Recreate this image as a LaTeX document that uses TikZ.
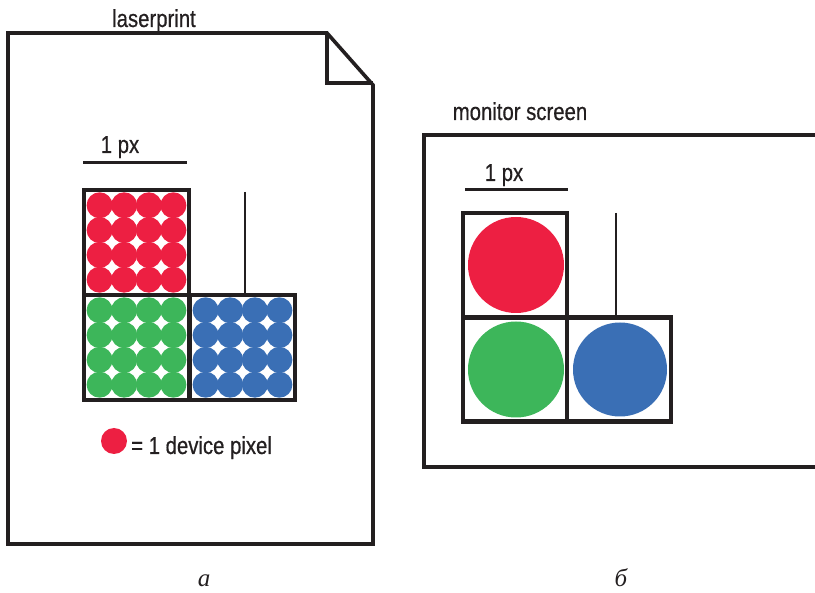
\documentclass[tikz,border=0pt]{standalone}
\usepackage{fontspec}
\setmainfont{Liberation Sans}[FakeStretch=0.83,FakeBold=0.6]
\newfontfamily\capfont{Liberation Serif}
\usetikzlibrary{positioning}
\definecolor{ink}{HTML}{231F20}
\definecolor{dotred}{HTML}{ED1F42}
\definecolor{dotgreen}{HTML}{3DB65A}
\definecolor{dotblue}{HTML}{3A6FB5}

\begin{document}
\begin{tikzpicture}[x=1pt,y=-1pt,
  outline/.style={draw=ink,line width=3.6pt,line join=miter},
  cell/.style={draw=ink,line width=4.6pt,minimum size=105pt,inner sep=0pt,outer sep=0pt},
  scalebar/.style={draw=ink,line width=3pt},
  tick/.style={draw=ink,line width=2.6pt},
  lbl/.style={font=\fontsize{24.5}{28}\selectfont,text=ink,anchor=base,inner sep=0pt},
  sublbl/.style={font=\capfont\itshape\fontsize{25}{29}\selectfont,text=ink,anchor=base,inner sep=0pt}]
\useasboundingbox (0,0) rectangle (815,593);

% printed page with folded corner
\draw[outline] (327,33) -- (8,33) -- (8,544) -- (373,544) -- (373,85) -- cycle;
\draw[outline] (327,33) -- (327,83) -- (373,83);
\node[lbl] (lp) at (154,27) {laserprint};

\node[lbl] (pxa) at (120,153) {1 px};
\coordinate (bara) at (83,163);
\draw[scalebar] (bara) -- ++(104,0);

\node[cell] (ra) at (136.5,242.5) {};
\node[cell] (ga) at (136.5,347.5) {};
\node[cell] (ba) at (242.5,347.5) {};
\foreach \cel/\col in {ra/dotred,ga/dotgreen,ba/dotblue}
  \foreach \i in {-1.5,-0.5,0.5,1.5}
    \foreach \j in {-1.5,-0.5,0.5,1.5}
      \fill[\col] (\cel.center) ++(\i*24.6,\j*24.8) circle[radius=13];
\draw[tick] (245,192) -- (245,296);

\fill[dotred] (114,441) circle[radius=13];
\node[lbl,anchor=base west] (dev) at (131,454) {= 1 device pixel};

% screen, running off to the right
\draw[outline] (815,135) -- (424,135) -- (424,467) -- (815,467);
\node[lbl] (ms) at (520,120) {monitor screen};

\node[lbl] (pxb) at (504,181) {1 px};
\coordinate (barb) at (465,190);
\draw[scalebar] (barb) -- ++(103,0);

\node[cell,minimum size=104pt] (rb) at (515,265) {};
\node[cell,minimum size=104pt] (gb) at (515,369.5) {};
\node[cell,minimum size=104pt] (bb) at (619,369.5) {};
\fill[dotred] (rb.center) ++(1,0) circle[radius=48];
\fill[dotgreen] (gb.center) ++(1,0) circle[radius=48];
\fill[dotblue] (bb.center) ++(1,0) circle[radius=47];
\draw[tick] (616,213) -- (616,318);

\node[sublbl] (capa) at (204,587) {а};
\node[sublbl] (capb) at (621,587) {б};
\end{tikzpicture}
\end{document}
